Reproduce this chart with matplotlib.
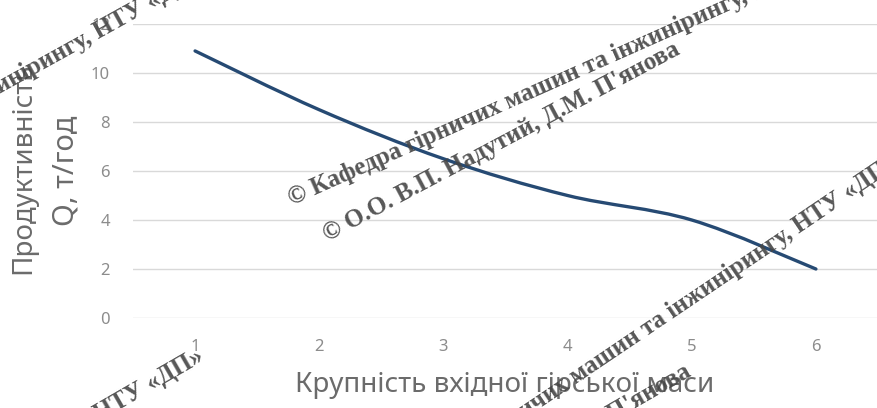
import matplotlib.pyplot as plt
from matplotlib.path import Path
from matplotlib.patches import PathPatch

# дані
size_class = [1, 2, 3, 4, 5, 6]
capacity = [10.9, 8.5, 6.5, 5.0, 4.0, 2.0]
y_ticks = [0, 2, 4, 6, 8, 10, 12]

wm_dept = "© Кафедра гірничих машин та інжинірингу, НТУ «ДП»"
wm_auth = "© О.О. В.П. Надутий, Д.М. П'янова"

plt.rcParams['font.family'] = ['Noto Sans', 'DejaVu Sans']

W, H = 878, 408
fig = plt.figure(figsize=(W / 100, H / 100), dpi=100)
ax = fig.add_axes([133 / W, 1 - 318 / H, 745 / W, 294 / H])

# згладжена лінія як у Excel (кубічні Безьє через точки)
verts = [(size_class[0], capacity[0])]
codes = [Path.MOVETO]
n = len(size_class)
for i in range(n - 1):
    x0, y0 = size_class[max(i - 1, 0)], capacity[max(i - 1, 0)]
    x1, y1 = size_class[i], capacity[i]
    x2, y2 = size_class[i + 1], capacity[i + 1]
    x3, y3 = size_class[min(i + 2, n - 1)], capacity[min(i + 2, n - 1)]
    verts += [(x1 + (x2 - x0) / 6, y1 + (y2 - y0) / 6),
              (x2 - (x3 - x1) / 6, y2 - (y3 - y1) / 6),
              (x2, y2)]
    codes += [Path.CURVE4] * 3
ax.add_patch(PathPatch(Path(verts, codes), fill=False, edgecolor='#264a73',
                       lw=2.4, capstyle='round', zorder=3))

ax.set_xlim(0.5, 6.5)
ax.set_ylim(0, 12)
ax.set_xticks(size_class)
ax.set_yticks(y_ticks)
ax.grid(axis='y', color='#d9d9d9', lw=1)
ax.set_axisbelow(True)
for s in ax.spines.values():
    s.set_visible(False)
ax.tick_params(length=0, labelsize=12, labelcolor='#8c8c8c')
ax.tick_params(axis='y', pad=16.5)
ax.tick_params(axis='x', pad=15)

fig.text(505 / W, 1 - 385 / H, "Крупність вхідної гірської маси", ha='center',
         va='center', fontsize=20, color='#6b6b6b')
fig.text(23 / W, 1 - 168 / H, "Продуктивність", rotation=90, ha='center',
         va='center', fontsize=20, color='#6b6b6b')
fig.text(66 / W, 1 - 171 / H, "Q, т/год", rotation=90, ha='center',
         va='center', fontsize=21, color='#6b6b6b')

# водяні знаки
wm = dict(family=['Liberation Serif', 'DejaVu Serif'], fontweight='bold',
          fontsize=18, color='#454545', alpha=0.9, rotation_mode='anchor',
          va='baseline', zorder=5)
fig.text(292 / W, 1 - 205 / H, wm_dept, rotation=24, ha='left', **wm)
fig.text(328 / W, 1 - 242 / H, wm_auth, rotation=28, ha='left', **wm)
fig.text(205 / W, 1 + 20 / H, wm_dept, rotation=29, ha='right', **wm)
fig.text(900 / W, 1 - 165 / H, wm_dept, rotation=34, ha='right', **wm)
fig.text(205 / W, 1 - 360 / H, wm_dept, rotation=30, ha='right', **wm)
fig.text(692 / W, 1 - 375 / H, wm_auth, rotation=30, ha='right', **wm)

fig.savefig('out.png', dpi=100)
